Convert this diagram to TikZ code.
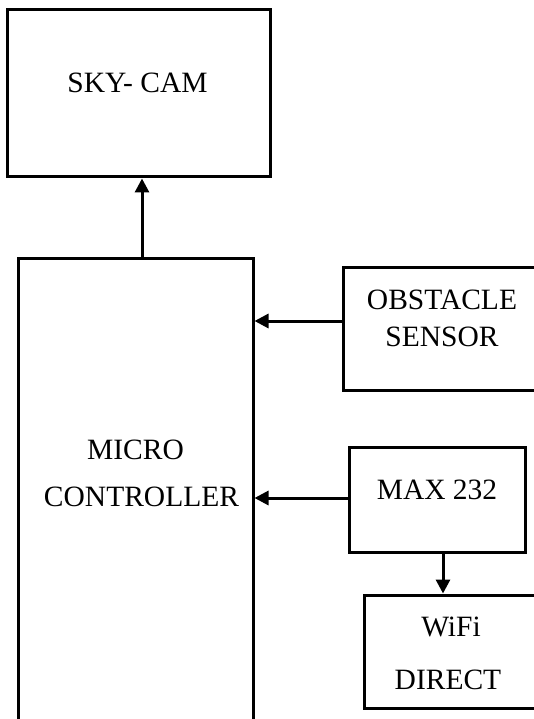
\documentclass[tikz,border=0pt]{standalone}
\usepackage{fontspec}
\setmainfont{Liberation Serif}
\usetikzlibrary{arrows.meta}
\begin{document}
\begin{tikzpicture}[x=1pt,y=-1pt,
  blk/.style={draw=black,line width=3pt,rectangle,inner sep=0pt},
  lbl/.style={font=\fontsize{29.5}{35}\selectfont,inner sep=0pt,anchor=center},
  arr/.style={line width=3pt,-{Triangle[length=14pt,width=14pt]}}]
  \useasboundingbox (0,0) rectangle (534,719);
  \clip (0,0) rectangle (534,719);
  \fill[white] (0,0) rectangle (534,719);
  % blocks (some run past the page edge)
  \node[blk,minimum width=262.5pt,minimum height=167.5pt] (cam) at (139,93.25) {};
  \node[blk,minimum width=235pt,minimum height=500pt] (mc) at (135.5,508) {};
  \node[blk,minimum width=240pt,minimum height=123pt] (obs) at (463,328.5) {};
  \node[blk,minimum width=176pt,minimum height=105pt] (max) at (437,499.5) {};
  \node[blk,minimum width=240pt,minimum height=113pt] (wifi) at (484,651.5) {};
  % labels
  \node[lbl] (camtxt) at (137.5,82.5) {SKY- CAM};
  \node[lbl] (mctxt1) at (135.5,449.5) {MICRO};
  \node[lbl] (mctxt2) at (141.5,497) {CONTROLLER};
  \node[lbl] (obstxt1) at (442,300) {OBSTACLE};
  \node[lbl] (obstxt2) at (442,337) {SENSOR};
  \node[lbl] (maxtxt) at (437,490) {MAX 232};
  \node[lbl] (wifitxt1) at (451,627) {WiFi};
  \node[lbl] (wifitxt2) at (448,680) {DIRECT};
  % connector guides
  \coordinate (upx) at (142,0);
  \coordinate (obsy) at (0,321);
  \coordinate (maxy) at (0,498);
  \coordinate (downx) at (443,0);
  % connectors
  \draw[arr] (mc.north -| upx) -- (cam.south -| upx);
  \draw[arr] (obs.west |- obsy) -- (mc.east |- obsy);
  \draw[arr] (max.west |- maxy) -- (mc.east |- maxy);
  \draw[arr] (max.south -| downx) -- (wifi.north -| downx);
\end{tikzpicture}
\end{document}
